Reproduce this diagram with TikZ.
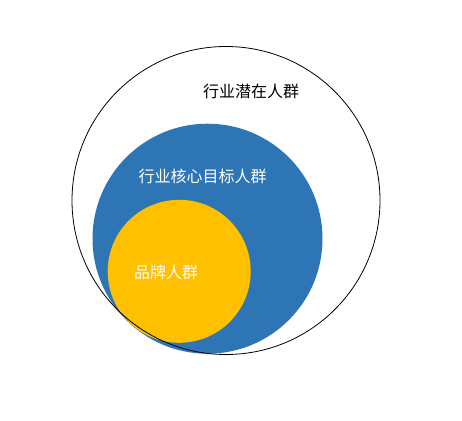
\documentclass[tikz,border=0pt]{standalone}
\usepackage{fontspec}
\newfontfamily\cjk{Noto Sans CJK SC}
\definecolor{cblue}{HTML}{2E75B6}
\definecolor{cyellow}{HTML}{FFC000}
\begin{document}
\begin{tikzpicture}[x=1pt,y=-1pt,
  lbl/.style={font=\cjk\fontsize{16}{18}\selectfont, inner sep=0pt}]
\useasboundingbox[fill=white] (0,0) rectangle (462,420);
\fill[cblue] (207.5,238.7) circle[radius=115];
\fill[cyellow] (179.2,271.3) circle[radius=71.5];
\draw[line width=0.8pt, black] (226,200.5) circle[radius=154];
\node[lbl, text=black] (outer) at (251,91) {行业潜在人群};
\node[lbl, text=white] (core) at (202.5,176) {行业核心目标人群};
\node[lbl, text=white] (brand) at (166,272) {品牌人群};
\end{tikzpicture}
\end{document}
